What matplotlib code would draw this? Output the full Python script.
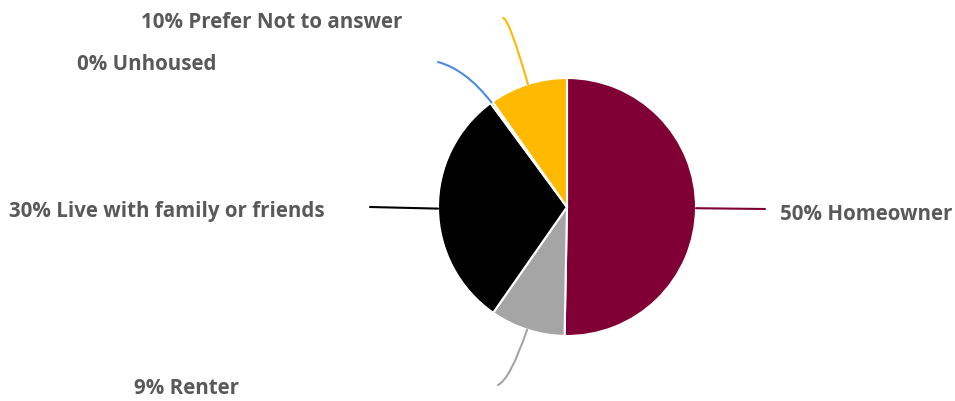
import numpy as np
import matplotlib
matplotlib.use('Agg')
import matplotlib.pyplot as plt

# data
categories = ['Homeowner', 'Renter', 'Live with family or friends', 'Unhoused', 'Prefer Not to answer']
values = [50.3, 9.4, 30.2, 0.3, 9.8]
pct_text = ['50%', '9%', '30%', '0%', '10%']
colors = ['#800035', '#a5a5a5', '#000000', '#4a8ddc', '#ffb900']

# layout (pixels, y measured from top)
W, H = 955, 401
cx, cy, r = 567, 207, 129
label_pos = [(780, 215, 'left'), (239, 388, 'right'), (325, 212, 'right'),
             (216, 65, 'right'), (402, 22, 'right')]
line_end = [(765, 209), (498, 385), (370, 207), (438, 62), (503, 18)]
line_style = ['arc3,rad=0', 'angle3,angleA=25,angleB=71', 'arc3,rad=0',
              'angle3,angleA=-15,angleB=-52', 'angle3,angleA=0,angleB=106']

plt.rcParams['font.family'] = ['Open Sans', 'DejaVu Sans']

fig = plt.figure(figsize=(W / 100, H / 100), dpi=100)
ax = fig.add_axes([0, 0, 1, 1])

wedges, _ = ax.pie(values, colors=colors, startangle=90, counterclock=False,
                   center=(cx, H - cy), radius=r,
                   wedgeprops=dict(edgecolor='white', linewidth=1.5))
# pie() resets the limits, so set them afterwards
ax.set_xlim(0, W)
ax.set_ylim(0, H)
ax.set_aspect('equal')
ax.axis('off')

for i, w in enumerate(wedges):
    mid = np.deg2rad((w.theta1 + w.theta2) / 2)
    sx = cx + r * np.cos(mid)
    sy = H - cy + r * np.sin(mid)
    ex, ey = line_end[i]
    ax.annotate('', xy=(sx, sy), xytext=(ex, H - ey),
                arrowprops=dict(arrowstyle='-', color=colors[i], lw=1.5,
                                shrinkA=0, shrinkB=0,
                                connectionstyle=line_style[i]))
    lx, ly, ha = label_pos[i]
    ax.text(lx, H - ly, pct_text[i] + ' ' + categories[i], ha=ha, va='center',
            fontsize=14.8, fontweight='bold', color='#595959')

fig.savefig('out.png', dpi=100)
